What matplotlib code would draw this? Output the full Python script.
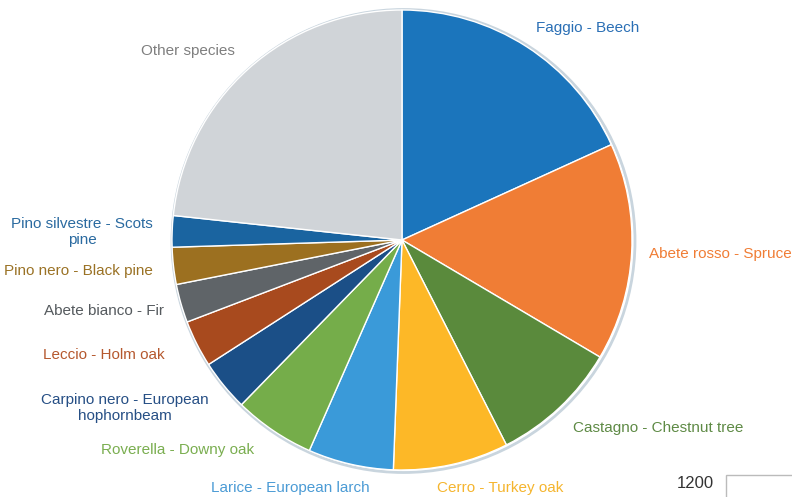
import matplotlib
matplotlib.use("Agg")
import matplotlib.pyplot as plt
from matplotlib.patches import Rectangle, Circle

plt.rcParams['font.family'] = ['Liberation Sans', 'DejaVu Sans']

labels = ["Faggio - Beech", "Abete rosso - Spruce", "Castagno - Chestnut tree",
          "Cerro - Turkey oak", "Larice - European larch", "Roverella - Downy oak",
          "Carpino nero - European\nhophornbeam", "Leccio - Holm oak",
          "Abete bianco - Fir", "Pino nero - Black pine",
          "Pino silvestre - Scots\npine", "Other species"]
values = [18.2, 15.3, 9.0, 8.1, 6.0, 5.7, 3.6, 3.3, 2.7, 2.6, 2.2, 23.3]
colors = ["#1B75BC", "#F07D35", "#5A8A3C", "#FDB827", "#3A9AD9", "#75AD4A",
          "#1B4F87", "#A84A1E", "#5F6468", "#9C7020", "#1A64A0", "#D0D4D8"]
label_colors = ["#2A6FB5", "#F07D35", "#5E8A45", "#F5B52E", "#4B9BD5", "#7AAE50",
                "#264F85", "#B5582E", "#555A5E", "#9A7225", "#2A6AA0", "#7F7F7F"]
# label anchor positions in pixel coordinates (x, y from top)
label_pos = [(588, 28), (720, 254), (658, 428), (500, 488), (290, 488), (178, 450),
             (125, 408), (104, 355), (104, 311), (78, 271), (82, 232), (188, 51)]

W, H = 792, 497
fig = plt.figure(figsize=(W / 100, H / 100), dpi=100)
ax = fig.add_axes([0, 0, 1, 1])
cx, cy, r = 402, H - 240, 230

ax.add_patch(Circle((cx + 1.5, cy - 1), r + 1.5, facecolor="none",
                    edgecolor="#C9D5DE", linewidth=2, zorder=0))
ax.pie(values, colors=colors, startangle=90, counterclock=False,
       center=(cx, cy), radius=r, frame=True,
       wedgeprops=dict(edgecolor="white", linewidth=1.0))

for lab, col, (px, py) in zip(labels, label_colors, label_pos):
    ax.text(px, H - py, lab, color=col, fontsize=11, ha="center", va="center",
            multialignment="center", linespacing=1.15)

ax.text(695, H - 483, "1200", color="#333333", fontsize=12, ha="center", va="center")
ax.add_patch(Rectangle((726, -5), 80, H - 475 + 5, facecolor="white",
                       edgecolor="#BBBBBB", linewidth=1))

ax.set_xlim(0, W)
ax.set_ylim(0, H)
ax.set_aspect("equal", adjustable="box")
ax.axis("off")
fig.savefig("out.png", dpi=100, facecolor="white")
